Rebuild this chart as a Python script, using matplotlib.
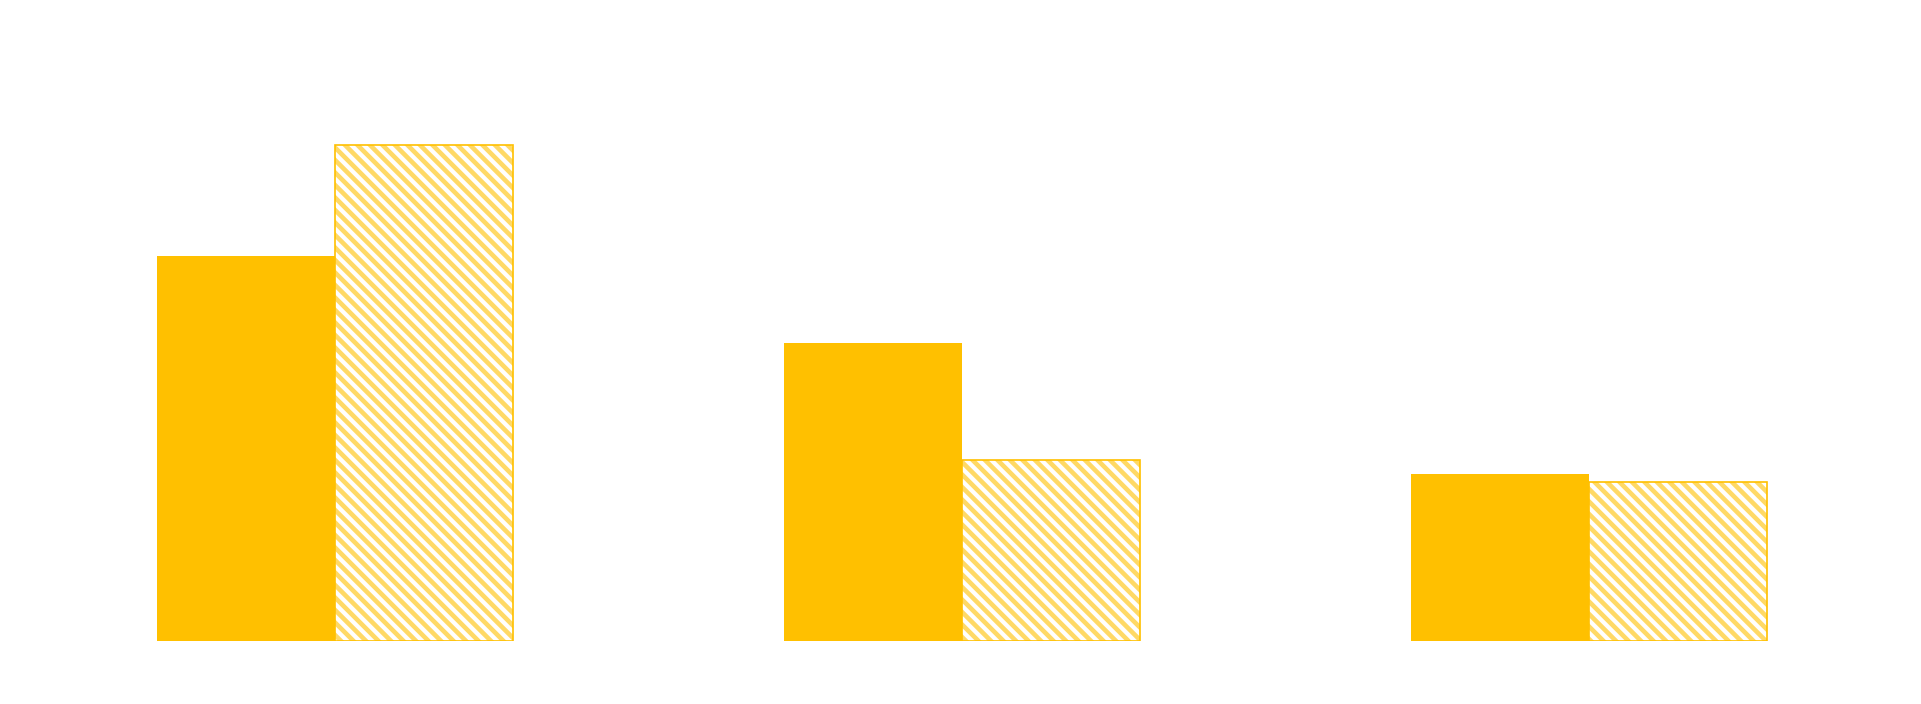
import matplotlib
matplotlib.use("Agg")
import matplotlib.pyplot as plt
import numpy as np

# values (arbitrary units, no axis shown)
categories = ["A", "B", "C"]
solid_values = [38.5, 29.8, 16.7]
hatched_values = [49.6, 18.1, 15.9]

BAR_COLOR = "#FFC000"
HATCH_COLOR = "#FFD966"
BAR_WIDTH = 0.284

plt.rcParams["hatch.linewidth"] = 2.2

fig = plt.figure(figsize=(1921 / 150, 704 / 150), dpi=150)
ax = fig.add_axes([77 / 1921, 63 / 704, 1770 / 1921, 521 / 704])

x = np.arange(len(categories))

ax.bar(x - BAR_WIDTH / 2, solid_values, BAR_WIDTH, color=BAR_COLOR, linewidth=0)
# hatch in a lighter tone, outline drawn on top in full colour
ax.bar(x + BAR_WIDTH / 2, hatched_values, BAR_WIDTH, facecolor="white",
       edgecolor=HATCH_COLOR, hatch="\\\\\\\\", linewidth=0)
ax.bar(x + BAR_WIDTH / 2, hatched_values, BAR_WIDTH, fill=False,
       edgecolor=BAR_COLOR, linewidth=0.8)

ax.axis("off")

fig.savefig("out.png", dpi=150, facecolor="white")
